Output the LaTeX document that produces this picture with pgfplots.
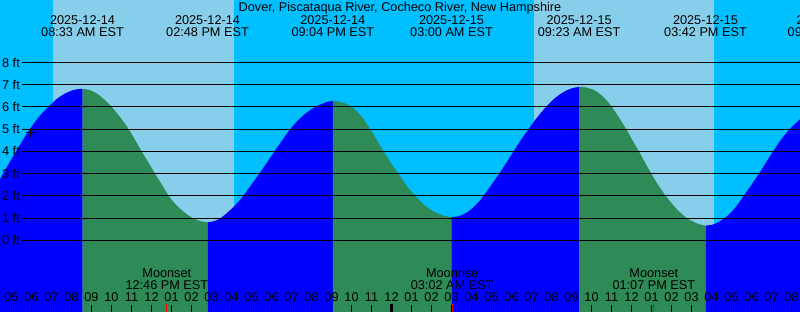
\documentclass[border=0pt]{standalone}
\usepackage{pgfplots}
\pgfplotsset{compat=1.18}
\usepackage{pgfplotstable}
\usepackage{fontspec}
\setmainfont{Liberation Sans}
\definecolor{night}{RGB}{0,191,255}
\definecolor{day}{RGB}{135,206,235}
\definecolor{rise}{RGB}{0,0,255}
\definecolor{fall}{RGB}{46,139,87}
\newcommand\fs{\fontsize{12.7}{15}\selectfont}

% hours since 2025-12-14 00:00 EST, height in ft; one table per rising/falling run
\pgfplotstableread{
t h
4.425 2.75
4.59 3.02
5.225 4.00
5.89 4.97
6.36 5.54
6.84 6.00
7.26 6.36
7.69 6.61
8.125 6.77
8.55 6.82
}\segA
\pgfplotstableread{
t h
8.55 6.82
8.925 6.76
9.275 6.60
9.625 6.35
10.01 6.00
10.425 5.55
10.84 5.03
11.175 4.52
11.51 4.00
11.85 3.50
12.175 3.00
12.525 2.50
12.84 2.03
13.125 1.70
13.425 1.43
13.725 1.20
14.01 1.03
14.425 0.87
14.8 0.81
}\segB
\pgfplotstableread{
t h
14.8 0.81
15.125 0.86
15.425 0.98
15.825 1.27
16.225 1.62
16.59 2.00
16.975 2.48
17.39 3.00
17.775 3.50
18.15 4.00
18.54 4.51
18.935 5.00
19.275 5.35
19.65 5.67
20.05 5.93
20.325 6.07
20.61 6.17
20.83 6.24
21.067 6.27
}\segC
\pgfplotstableread{
t h
21.067 6.27
21.375 6.24
21.675 6.16
21.975 6.03
22.275 5.80
22.6 5.45
22.94 5.00
23.275 4.50
23.61 4.00
23.975 3.47
24.36 2.98
24.75 2.47
25.19 2.00
25.575 1.65
25.975 1.37
26.325 1.20
26.675 1.09
27.0 1.04
}\segD
\pgfplotstableread{
t h
27.0 1.04
27.375 1.09
27.725 1.23
28.075 1.47
28.35 1.72
28.6 2.00
29.0 2.50
29.385 3.00
29.75 3.50
30.1 4.00
30.475 4.52
30.85 5.00
31.275 5.52
31.725 6.00
32.175 6.40
32.575 6.66
32.975 6.83
33.383 6.91
}\segE
\pgfplotstableread{
t h
33.383 6.91
33.775 6.87
34.125 6.76
34.425 6.58
34.725 6.33
35.025 6.00
35.375 5.52
35.74 5.00
36.05 4.50
36.375 4.00
36.675 3.50
36.99 3.00
37.325 2.50
37.71 2.00
38.05 1.62
38.4 1.28
38.74 1.02
39.075 0.84
39.425 0.71
39.7 0.66
}\segF
\pgfplotstableread{
t h
39.7 0.66
40.075 0.71
40.375 0.83
40.66 1.00
40.975 1.25
41.3 1.60
41.61 2.00
42.0 2.50
42.375 3.00
42.725 3.50
43.075 4.00
43.475 4.53
43.91 5.00
44.425 5.45
}\segG

\newcommand\seg[4]{\addplot[fill=#1, draw=none, smooth] table[x=t, y=h] {#2} -- (axis cs:#4,-4) -- (axis cs:#3,-4) -- cycle;}

\begin{document}
\begin{tikzpicture}
\begin{axis}[
  at={(0,0)}, anchor=south west,
  scale only axis, width=800pt, height=312pt,
  xmin=4.425, xmax=44.425, ymin=-3.227, ymax=10.815,
  axis background/.style={fill=night},
  axis line style={draw=none},
  ytick=\empty,
  xtick={5,...,44},
  xticklabels={05,06,07,08,09,10,11,12,01,02,03,04,05,06,07,08,09,10,11,12,01,02,03,04,05,06,07,08,09,10,11,12,01,02,03,04,05,06,07,08},
  xtick pos=lower,
  tick align=inside,
  major tick length=7pt,
  major tick style={black, line width=1pt},
  minor xtick={12.767,27.033,37.117},
  minor tick length=8pt,
  minor tick style={red, line width=1pt},
  extra x ticks={24},
  extra x tick labels={},
  extra x tick style={major tick length=8pt, major tick style={black, line width=3pt}},
  xticklabel style={font=\fs, anchor=base, yshift=10.3pt, inner sep=0pt},
  axis on top,
  clip=true,
]
% daylight bands
\addplot[fill=day, draw=none] coordinates {(7.075,-4) (7.075,12) (16.125,12) (16.125,-4)} -- cycle;
\addplot[fill=day, draw=none] coordinates {(31.125,-4) (31.125,12) (40.125,12) (40.125,-4)} -- cycle;
% tide: blue while rising, green while falling
\seg{rise}{\segA}{4.425}{8.55}
\seg{fall}{\segB}{8.55}{14.8}
\seg{rise}{\segC}{14.8}{21.067}
\seg{fall}{\segD}{21.067}{27.0}
\seg{rise}{\segE}{27.0}{33.383}
\seg{fall}{\segF}{33.383}{39.7}
\seg{rise}{\segG}{39.7}{44.425}
% foot lines and labels
\pgfplotsinvokeforeach{0,...,8}{
  \addplot[black, line width=1pt] coordinates {(5.525,#1) (44.425,#1)};
  \node[anchor=east, inner sep=0pt, font=\fs] at (axis cs:5.425,#1) {#1 ft};
}
\addplot[black, only marks, mark=+, mark size=4.5pt, line width=1pt] coordinates {(5.925,4.86)};
% title
\node[anchor=base, inner sep=0pt, font=\fs] at (axis cs:24.425,10.306) {Dover, Piscataqua River, Cocheco River, New Hampshire};
% tide event labels
\node[anchor=base, inner sep=0pt, font=\fs] at (axis cs:8.55,9.734) {2025-12-14};
\node[anchor=base, inner sep=0pt, font=\fs] at (axis cs:8.55,9.194) {08:33 AM EST};
\node[anchor=base, inner sep=0pt, font=\fs] at (axis cs:14.8,9.734) {2025-12-14};
\node[anchor=base, inner sep=0pt, font=\fs] at (axis cs:14.8,9.194) {02:48 PM EST};
\node[anchor=base, inner sep=0pt, font=\fs] at (axis cs:21.067,9.734) {2025-12-14};
\node[anchor=base, inner sep=0pt, font=\fs] at (axis cs:21.067,9.194) {09:04 PM EST};
\node[anchor=base, inner sep=0pt, font=\fs] at (axis cs:27.0,9.734) {2025-12-15};
\node[anchor=base, inner sep=0pt, font=\fs] at (axis cs:27.0,9.194) {03:00 AM EST};
\node[anchor=base, inner sep=0pt, font=\fs] at (axis cs:33.383,9.734) {2025-12-15};
\node[anchor=base, inner sep=0pt, font=\fs] at (axis cs:33.383,9.194) {09:23 AM EST};
\node[anchor=base, inner sep=0pt, font=\fs] at (axis cs:39.7,9.734) {2025-12-15};
\node[anchor=base, inner sep=0pt, font=\fs] at (axis cs:39.7,9.194) {03:42 PM EST};
\node[anchor=base, inner sep=0pt, font=\fs] at (axis cs:45.875,9.734) {2025-12-15};
\node[anchor=base, inner sep=0pt, font=\fs] at (axis cs:45.875,9.194) {09:52 PM EST};
% moon labels
\node[anchor=base, inner sep=0pt, font=\fs] at (axis cs:12.767,-1.683) {Moonset};
\node[anchor=base, inner sep=0pt, font=\fs] at (axis cs:12.767,-2.237) {12:46 PM EST};
\node[anchor=base, inner sep=0pt, font=\fs] at (axis cs:27.033,-1.683) {Moonrise};
\node[anchor=base, inner sep=0pt, font=\fs] at (axis cs:27.033,-2.237) {03:02 AM EST};
\node[anchor=base, inner sep=0pt, font=\fs] at (axis cs:37.117,-1.683) {Moonset};
\node[anchor=base, inner sep=0pt, font=\fs] at (axis cs:37.117,-2.237) {01:07 PM EST};
\end{axis}
\pgfresetboundingbox
\useasboundingbox (0,0) rectangle (800pt,312pt);
\end{tikzpicture}
\end{document}
